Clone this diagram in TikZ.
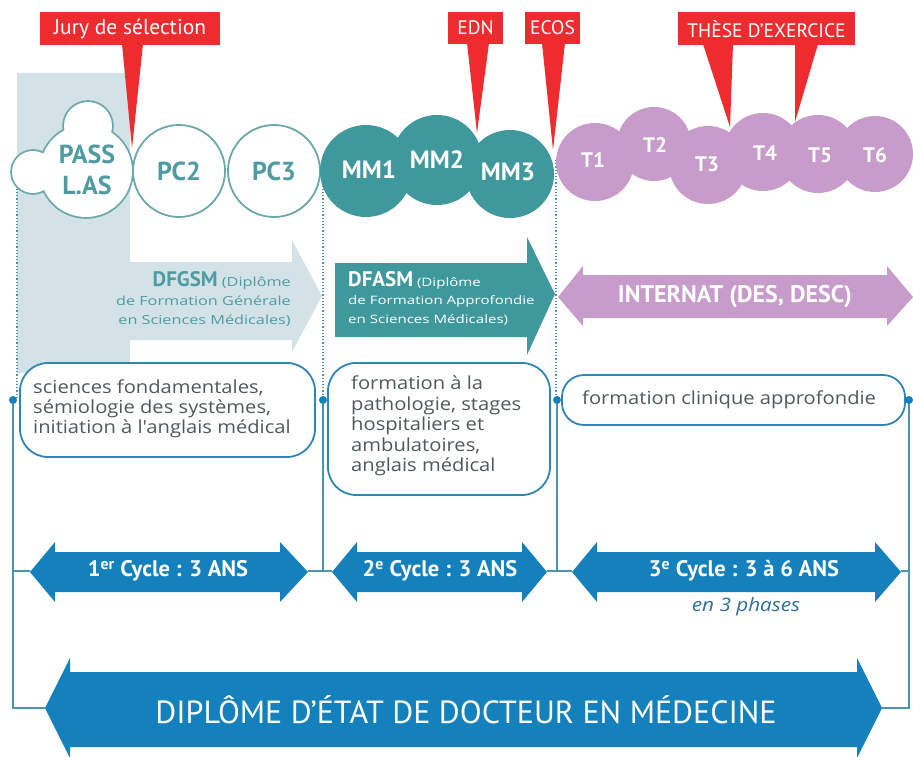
\documentclass[tikz,border=0pt]{standalone}
\usepackage{fontspec}
\setmainfont{PT Sans}
\newfontfamily\bodyfont[FakeStretch=1.12]{Open Sans}
\newfontfamily\smallfont[FakeStretch=1.3]{Open Sans}
\definecolor{cred}{HTML}{EE2B2E}
\definecolor{cteal}{HTML}{3F999C}
\definecolor{cteall}{HTML}{6AA8AA}
\definecolor{cgray}{HTML}{D3E2E6}
\definecolor{cpurp}{HTML}{C79BCA}
\definecolor{cblue}{HTML}{1581BC}
\definecolor{cbord}{HTML}{2F86B6}
\definecolor{cline}{HTML}{4B93AF}
\definecolor{ctext}{HTML}{50595B}
\definecolor{ctealtext}{HTML}{4E9CA2}
\definecolor{cital}{HTML}{2E6E9A}
\tikzset{
  callout/.style={fill=cred, draw=none},
  calltext/.style={text=white, inner sep=0pt, font=\fontsize{19.5}{19.5}\selectfont},
  ocirc/.style={circle, draw=cteall, line width=1.8pt, fill=white, inner sep=0pt},
  mmcirc/.style={circle, fill=cteal, inner sep=0pt},
  tcirc/.style={circle, fill=cpurp, inner sep=0pt},
  boxr/.style={draw=cbord, line width=1.8pt, fill=white, rounded corners=28pt},
  jdot/.style={circle, fill=cblue, inner sep=0pt, minimum size=8pt},
  vline/.style={draw=cline, line width=1.5pt},
  dline/.style={draw=cline, dotted, line width=1.2pt},
  boxtext/.style={text=ctext, align=left, anchor=west, inner sep=0pt, font=\bodyfont\fontsize{18}{20}\selectfont},
  cyctext/.style={text=white, inner sep=0pt, font=\bfseries\fontsize{22.5}{22}\selectfont},
  mmtext/.style={text=white, inner sep=0pt, font=\bfseries\fontsize{25}{25}\selectfont},
  ttext/.style={text=white, inner sep=0pt, font=\bfseries\fontsize{21}{21}\selectfont},
  pctext/.style={text=ctealtext, inner sep=0pt, font=\bfseries\fontsize{26}{31}\selectfont, align=center},
}
\begin{document}
\begin{tikzpicture}[x=1pt,y=-1pt]
\useasboundingbox (0,0) rectangle (913,757);
% gray background + DFGSM arrow
\fill[cgray] (17,73) -- (130,73) -- (130,262) -- (292,262) -- (292,240) -- (322,296) -- (292,352) -- (292,340) -- (130,340) -- (130,373) -- (17,373) -- cycle;
% DFASM arrow
\fill[cteal] (335,263) -- (527,263) -- (527,237) -- (555,294) -- (527,355) -- (527,337) -- (335,337) -- cycle;
% INTERNAT arrow
\fill[cpurp] (558,297) -- (583,266) -- (583,275) -- (887,275) -- (887,266) -- (913,297) -- (887,326) -- (887,318) -- (583,318) -- (583,326) -- cycle;
% dotted lines
\coordinate (d1t) at (17,160); \coordinate (d1b) at (17,400);
\coordinate (d2t) at (323,160); \coordinate (d2b) at (323,400);
\coordinate (d3t) at (556,160); \coordinate (d3b) at (556,400);
\draw[dline] (d1t) -- (d1b);
\draw[dline] (d2t) -- (d2b);
\draw[dline] (d3t) -- (d3b);
% PASS cloud
\node[circle, draw=cteall, line width=3.6pt, minimum size=92pt, inner sep=0pt] (passA) at (86,171) {};
\node[circle, draw=cteall, line width=3.6pt, minimum size=48pt, inner sep=0pt] (passB) at (88,126) {};
\node[circle, draw=cteall, line width=3.6pt, minimum size=42pt, inner sep=0pt] (passC) at (33,172) {};
\fill[white] (passA.center) circle (46pt) (passB.center) circle (24pt) (passC.center) circle (21pt);
\node[pctext] (passT) at (87,170) {PASS\\L.AS};
% PC2 PC3
\node[ocirc, minimum size=92pt] (pc2) at (179,171) {};
\node[ocirc, minimum size=92pt] (pc3) at (274,171) {};
\node[pctext] at (pc2) {PC2};
\node[pctext] at (pc3) {PC3};
% MM circles
\node[mmcirc, minimum size=92pt] (mm1) at (366,171) {};
\node[mmcirc, minimum size=90pt] (mm2) at (437,160) {};
\node[mmcirc, minimum size=88pt] (mm3) at (510,174) {};
\node[mmtext] at (369,170) {MM1};
\node[mmtext] at (437,160) {MM2};
\node[mmtext] at (508,172) {MM3};
% T circles
\node[tcirc, minimum size=78pt] (t1) at (595,162) {};
\node[tcirc, minimum size=74pt] (t2) at (654,144) {};
\node[tcirc, minimum size=78pt] (t3) at (708,165) {};
\node[tcirc, minimum size=78pt] (t4) at (763,152) {};
\node[tcirc, minimum size=78pt] (t5) at (818,154) {};
\node[tcirc, minimum size=76pt] (t6) at (875,154) {};
\node[ttext] at (593,160) {T1};
\node[ttext] at (655,145) {T2};
\node[ttext] at (707,164) {T3};
\node[ttext] at (765,153) {T4};
\node[ttext] at (820,155) {T5};
\node[ttext] at (875,155) {T6};
% red callouts
\fill[callout] (40,12) rectangle (220,45);
\fill[callout] (122,44) -- (143,44) -- (132,148) -- cycle;
\node[calltext, font=\fontsize{21.5}{21}\selectfont] (jury) at (130,29) {Jury de sélection};
\fill[callout] (448,12) rectangle (503,44);
\fill[callout] (467,43) -- (489,43) -- (477,133) -- cycle;
\node[calltext] (edn) at (475.5,28) {EDN};
\fill[callout] (525,12) rectangle (580,44);
\fill[callout] (542,43) -- (565,43) -- (553,150) -- cycle;
\node[calltext] (ecos) at (552.5,28) {ECOS};
\fill[callout] (678,12) rectangle (855,45);
\fill[callout] (703,44) -- (733,44) -- (730,127) -- cycle;
\fill[callout] (795,44) -- (818,44) -- (795,122) -- cycle;
\node[calltext] (these) at (766.5,29) {THÈSE D'EXERCICE};
% arrow texts
\node[anchor=east, align=right, inner sep=0pt, text=ctealtext, font=\smallfont\fontsize{12.5}{19}\selectfont] (dfgsm) at (291,299)
  {{\rmfamily\bfseries\fontsize{21}{19}\selectfont DFGSM} (Diplôme\\de Formation Générale\\en Sciences Médicales)};
\node[anchor=west, align=left, inner sep=0pt, text=white, font=\smallfont\fontsize{11.6}{18.5}\selectfont] (dfasm) at (348,298)
  {{\rmfamily\bfseries\fontsize{21}{18.5}\selectfont DFASM} (Diplôme\\de Formation Approfondie\\en Sciences Médicales)};
\node[text=white, inner sep=0pt, font=\bfseries\fontsize{24}{24}\selectfont] (internat) at (735,297) {INTERNAT (DES, DESC)};
% rounded boxes
\node[boxr, minimum width=295pt, minimum height=94pt, inner sep=0pt] (box1) at (167.5,410) {};
\node[boxtext] at (33,409) {sciences fondamentales,\\sémiologie des systèmes,\\initiation à l'anglais médical};
\node[boxr, minimum width=222pt, minimum height=132pt, inner sep=0pt] (box2) at (439,429) {};
\node[boxtext, font=\bodyfont\fontsize{18}{20.5}\selectfont] at (351,426) {formation à la\\pathologie, stages\\hospitaliers et\\ambulatoires,\\anglais médical};
\node[boxr, rounded corners=22pt, minimum width=343pt, minimum height=50pt, inner sep=0pt] (box3) at (733.5,400) {};
\node[boxtext] at (582,400) {formation clinique approfondie};
% cycle arrows
\fill[cblue] (30,572) -- (55,542) -- (55,552) -- (280,552) -- (280,542) -- (308,572) -- (280,602) -- (280,592) -- (55,592) -- (55,602) -- cycle;
\fill[cblue] (332,572) -- (357,542) -- (357,552) -- (522,552) -- (522,542) -- (547,572) -- (522,602) -- (522,592) -- (357,592) -- (357,602) -- cycle;
\fill[cblue] (572,572) -- (597,542) -- (597,552) -- (875,552) -- (875,542) -- (901,572) -- (875,602) -- (875,592) -- (597,592) -- (597,602) -- cycle;
\node[cyctext] (c1) at (168,571) {1\textsuperscript{er} Cycle : 3 ANS};
\node[cyctext] (c2) at (440,571) {2\textsuperscript{e} Cycle : 3 ANS};
\node[cyctext] (c3) at (744,571) {3\textsuperscript{e} Cycle : 3 à 6 ANS};
\node[text=cital, inner sep=0pt, font=\bodyfont\itshape\fontsize{18.5}{18}\selectfont] (phases) at (746,607) {en 3 phases};
% diploma arrow
\fill[cblue] (45,708) -- (70,658) -- (70,672) -- (857,672) -- (857,658) -- (882,708) -- (857,758) -- (857,747) -- (70,747) -- (70,758) -- cycle;
\node[text=white, inner sep=0pt, font=\fontsize{32}{32}\selectfont] (dip) at (466,710) {DIPLÔME D'ÉTAT DE DOCTEUR EN MÉDECINE};
% connectors
\coordinate (a1L) at (30,571); \coordinate (a1R) at (308,571);
\coordinate (a2L) at (332,571); \coordinate (a2R) at (547,571);
\coordinate (a3L) at (572,571); \coordinate (a3R) at (901,571);
\coordinate (dipL) at (45,708); \coordinate (dipR) at (882,708);
\coordinate (v1) at (13,400); \coordinate (v2) at (323,400);
\coordinate (v3) at (557,400); \coordinate (v4) at (909,400);
\draw[vline] (v1) -- (v1 |- dipL) -- (dipL);
\draw[vline] (v1 |- a1L) -- (a1L);
\draw[vline] (v2) -- (v2 |- a1R);
\draw[vline] (a1R) -- (a2L);
\draw[vline] (v3) -- (v3 |- a2R);
\draw[vline] (a2R) -- (a3L);
\draw[vline] (v4) -- (v4 |- dipR) -- (dipR);
\draw[vline] (a3R) -- (v4 |- a3R);
\node[jdot] (dot1) at (v1) {};
\node[jdot] (dot2) at (v2) {};
\node[jdot] (dot3) at (v3) {};
\node[jdot] (dot4) at (v4) {};
\end{tikzpicture}
\end{document}
